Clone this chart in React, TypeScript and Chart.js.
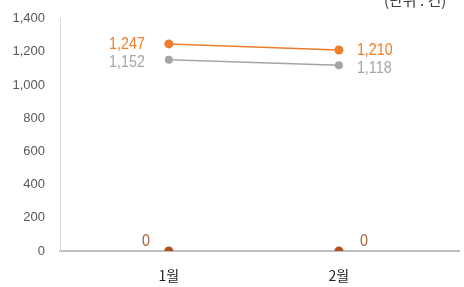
import React, { useEffect, useRef } from "react";
import { Chart, registerables } from "chart.js";

Chart.register(...registerables);

const categories = ["1월", "2월"];
const xPositions = [1, 2];
const seriesOrange = [1247, 1210];
const seriesGray = [1152, 1118];
const seriesZero = [0, 0];
const yTicks = [0, 200, 400, 600, 800, 1000, 1200, 1400];
const unitText = "(단위 : 건)";

const ORANGE = "#F07D2B";
const GRAY = "#A5A5A5";
const DARK = "#B5501C";
const ZERO_LABEL = "#A9603A";

const fmt = (v: number) => v.toLocaleString("en-US");

const SQUEEZE = 0.84;

const labelPlugin = {
  id: "valueLabels",
  afterDatasetsDraw(chart: any) {
    const ctx = chart.ctx;
    const cfg = [
      { ds: 0, color: ORANGE, dy: 0, left: 24, right: 18 },
      { ds: 1, color: GRAY, dy: 3, left: 24, right: 18 },
      { ds: 2, color: ZERO_LABEL, dy: -10, left: 19, right: 21 },
    ];
    cfg.forEach((c) => {
      const meta = chart.getDatasetMeta(c.ds);
      const data = chart.data.datasets[c.ds].data;
      meta.data.forEach((pt: any, i: number) => {
        const v = data[i].y;
        ctx.save();
        ctx.font = "17px 'Liberation Sans', Arial, sans-serif";
        ctx.textBaseline = "middle";
        ctx.fillStyle = c.color;
        const ax = i === 0 ? pt.x - c.left : pt.x + c.right;
        ctx.translate(ax, pt.y + c.dy);
        ctx.scale(SQUEEZE, 1);
        ctx.textAlign = i === 0 ? "right" : "left";
        ctx.fillText(fmt(v), 0, 0);
        ctx.restore();
      });
    });
    ctx.save();
    ctx.font = "15px 'Noto Sans CJK KR', sans-serif";
    ctx.fillStyle = "#404040";
    ctx.textAlign = "left";
    ctx.textBaseline = "alphabetic";
    ctx.fillText(unitText, 384, 6);
    ctx.restore();
  },
};

export default function App() {
  const ref = useRef<HTMLCanvasElement>(null);
  useEffect(() => {
    document.body.style.margin = "0";
    const mk = (arr: number[]) => arr.map((y, i) => ({ x: xPositions[i], y }));
    const chart = new Chart(ref.current!, {
      type: "line",
      data: {
        datasets: [
          {
            data: mk(seriesOrange),
            borderColor: ORANGE,
            backgroundColor: ORANGE,
            borderWidth: 1.5,
            pointRadius: 4.5,
            pointBorderWidth: 0,
          },
          {
            data: mk(seriesGray),
            borderColor: GRAY,
            backgroundColor: GRAY,
            borderWidth: 1.5,
            pointRadius: 4,
            pointBorderWidth: 0,
          },
          {
            data: mk(seriesZero),
            borderColor: DARK,
            backgroundColor: DARK,
            showLine: false,
            pointRadius: 4.5,
            pointBorderWidth: 0,
          },
        ],
      },
      options: {
        responsive: false,
        animation: false,
        layout: { padding: { top: 18.5, right: 0, left: 0, bottom: 0 } },
        plugins: { legend: { display: false }, tooltip: { enabled: false } },
        scales: {
          x: {
            type: "linear",
            min: 0.36,
            max: 2.709,
            afterBuildTicks: (s: any) => {
              s.ticks = xPositions.map((v) => ({ value: v }));
            },
            afterFit: (s: any) => {
              s.height = 36;
              s.paddingLeft = 0;
              s.paddingRight = 0;
            },
            grid: { display: false, drawTicks: false },
            border: { color: "#BFBFBF", width: 2 },
            ticks: {
              padding: 16,
              color: "#262626",
              font: { size: 14, family: "'Noto Sans CJK KR', sans-serif" },
              callback: (v: any) => {
                const idx = xPositions.indexOf(v);
                return idx >= 0 ? categories[idx] : "";
              },
            },
          },
          y: {
            min: 0,
            max: 1400,
            afterBuildTicks: (s: any) => {
              s.ticks = yTicks.map((v) => ({ value: v }));
            },
            afterFit: (s: any) => {
              s.width = 60;
              s.paddingTop = 0;
              s.paddingBottom = 0;
            },
            grid: { display: false, drawTicks: false },
            border: { color: "#D9D9D9", width: 1 },
            ticks: {
              padding: 15,
              color: "#595959",
              font: { size: 13, family: "'Liberation Sans', Arial, sans-serif" },
              callback: (v: any) => fmt(v),
            },
          },
        },
      },
      plugins: [labelPlugin],
    } as any);
    return () => chart.destroy();
  }, []);
  return (
    <div style={{ position: "fixed", left: 0, top: 0, width: 464, height: 287, background: "#fff" }}>
      <canvas ref={ref} width={464} height={287} />
    </div>
  );
}
